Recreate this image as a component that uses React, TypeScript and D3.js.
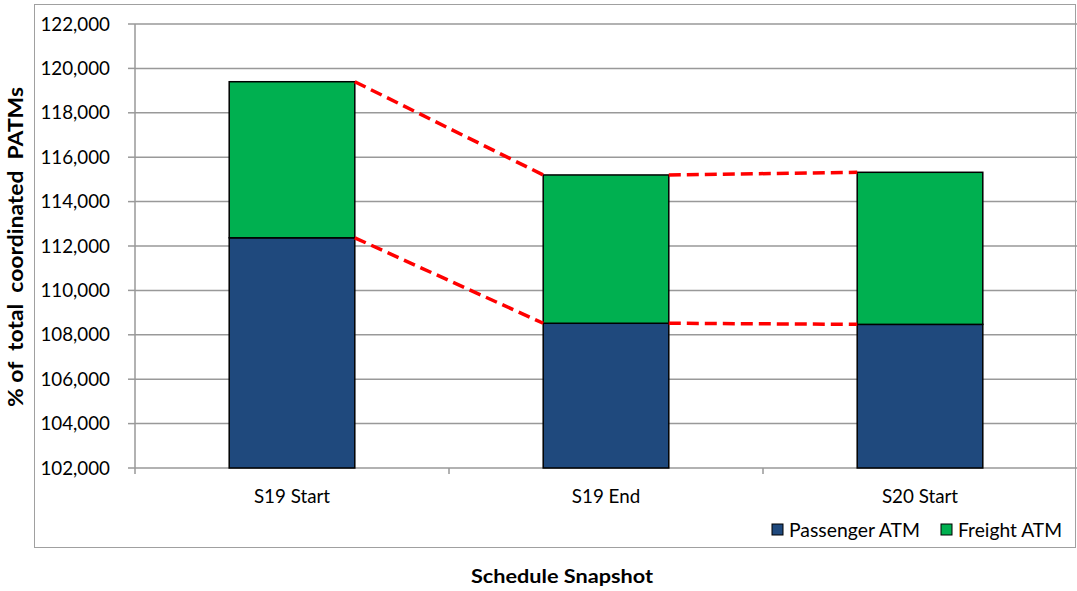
import React from "react";
import * as d3 from "d3";

const categories = ["S19 Start", "S19 End", "S20 Start"];
const passenger = [112370, 108520, 108470];
const freight = [7030, 6680, 6850];
const seriesNames = ["Passenger ATM", "Freight ATM"];
const seriesColors = ["#1F497D", "#00B050"];
const yTicks = [102000, 104000, 106000, 108000, 110000, 112000, 114000, 116000, 118000, 120000, 122000];

const W = 1077;
const H = 591;
const plot = { left: 135, right: 1077, top: 24, bottom: 468 };
const FONT = "Lato, 'Open Sans', sans-serif";
const FS = 18.8;

export default function App() {
  const x = d3.scaleBand<string>().domain(categories).range([plot.left, plot.right]).paddingInner(0.6).paddingOuter(0.3);
  const xOuter = d3.scaleBand<string>().domain(categories).range([plot.left, plot.right]);
  const y = d3.scaleLinear().domain([102000, 122000]).range([plot.bottom, plot.top]);
  const fmt = d3.format(",");

  const stacked = categories.map((c, i) => {
    const p = passenger[i];
    const t = p + freight[i];
    return { c, p, t };
  });

  const bw = x.bandwidth();
  const lines: { x1: number; y1: number; x2: number; y2: number }[] = [];
  for (let i = 0; i < stacked.length - 1; i++) {
    const a = stacked[i], b = stacked[i + 1];
    const x1 = (x(a.c) as number) + bw;
    const x2 = x(b.c) as number;
    lines.push({ x1, y1: y(a.t), x2, y2: y(b.t) });
    lines.push({ x1, y1: y(a.p), x2, y2: y(b.p) });
  }

  return (
    <svg width={W} height={H} style={{ position: "absolute", left: 0, top: 0, background: "#fff" }} fontFamily={FONT}>
      <rect x={34.5} y={4.5} width={1041} height={543} fill="#fff" stroke="#a0a0a0" strokeWidth={1} />
      {/* gridlines */}
      {yTicks.map((t) => (
        <line key={t} x1={plot.left} x2={plot.right} y1={y(t)} y2={y(t)} stroke="#999" strokeWidth={1.5} />
      ))}
      {/* y axis */}
      <line x1={plot.left} x2={plot.left} y1={plot.top} y2={plot.bottom} stroke="#999" strokeWidth={1.5} />
      {yTicks.map((t) => (
        <g key={"yt" + t}>
          <line x1={plot.left - 7} x2={plot.left} y1={y(t)} y2={y(t)} stroke="#999" strokeWidth={1.5} />
          <text x={110} y={y(t)} dy="0.35em" textAnchor="end" fontSize={FS} fill="#000">
            {fmt(t)}
          </text>
        </g>
      ))}
      {/* x ticks */}
      {categories.map((c) => (
        <line key={"xt" + c} x1={xOuter(c) as number} x2={xOuter(c) as number} y1={plot.bottom} y2={plot.bottom + 6} stroke="#999" strokeWidth={1.5} />
      ))}
      {/* bars */}
      {stacked.map((d) => (
        <g key={d.c}>
          <rect x={x(d.c)} y={y(d.p)} width={bw} height={y(102000) - y(d.p)} fill={seriesColors[0]} stroke="#000" strokeWidth={1.5} />
          <rect x={x(d.c)} y={y(d.t)} width={bw} height={y(d.p) - y(d.t)} fill={seriesColors[1]} stroke="#000" strokeWidth={1.5} />
        </g>
      ))}
      {/* dashed connectors */}
      {lines.map((l, i) => (
        <line key={"l" + i} x1={l.x1} y1={l.y1} x2={l.x2} y2={l.y2} stroke="#FF0000" strokeWidth={3.5} strokeDasharray="12 6" />
      ))}
      {/* x labels */}
      {categories.map((c) => (
        <text key={"xl" + c} x={(x(c) as number) + bw / 2} y={496} dy="0.35em" textAnchor="middle" fontSize={FS} fill="#000">
          {c}
        </text>
      ))}
      {/* legend */}
      <rect x={772} y={524} width={11} height={11} fill={seriesColors[0]} stroke="#000" strokeWidth={1} />
      <text x={789} y={530} dy="0.35em" fontSize={FS} fill="#000" textLength={131} lengthAdjust="spacingAndGlyphs">{seriesNames[0]}</text>
      <rect x={941} y={524} width={11} height={11} fill={seriesColors[1]} stroke="#000" strokeWidth={1} />
      <text x={958} y={530} dy="0.35em" fontSize={FS} fill="#000" textLength={104} lengthAdjust="spacingAndGlyphs">{seriesNames[1]}</text>
      {/* axis titles */}
      <text x={562} y={576} dy="0.35em" textAnchor="middle" fontSize={19} fontWeight="bold" fill="#000" textLength={182} lengthAdjust="spacingAndGlyphs">
        Schedule Snapshot
      </text>
      <text
        transform={`translate(16,247) rotate(-90)`}
        dy="0.35em"
        textAnchor="middle"
        fontSize={20.5}
        fontWeight="bold"
        fill="#000"
        xmlSpace="preserve"
        textLength={320}
        lengthAdjust="spacingAndGlyphs"
      >
        {"% of  total  coordinated  PATMs"}
      </text>
    </svg>
  );
}
